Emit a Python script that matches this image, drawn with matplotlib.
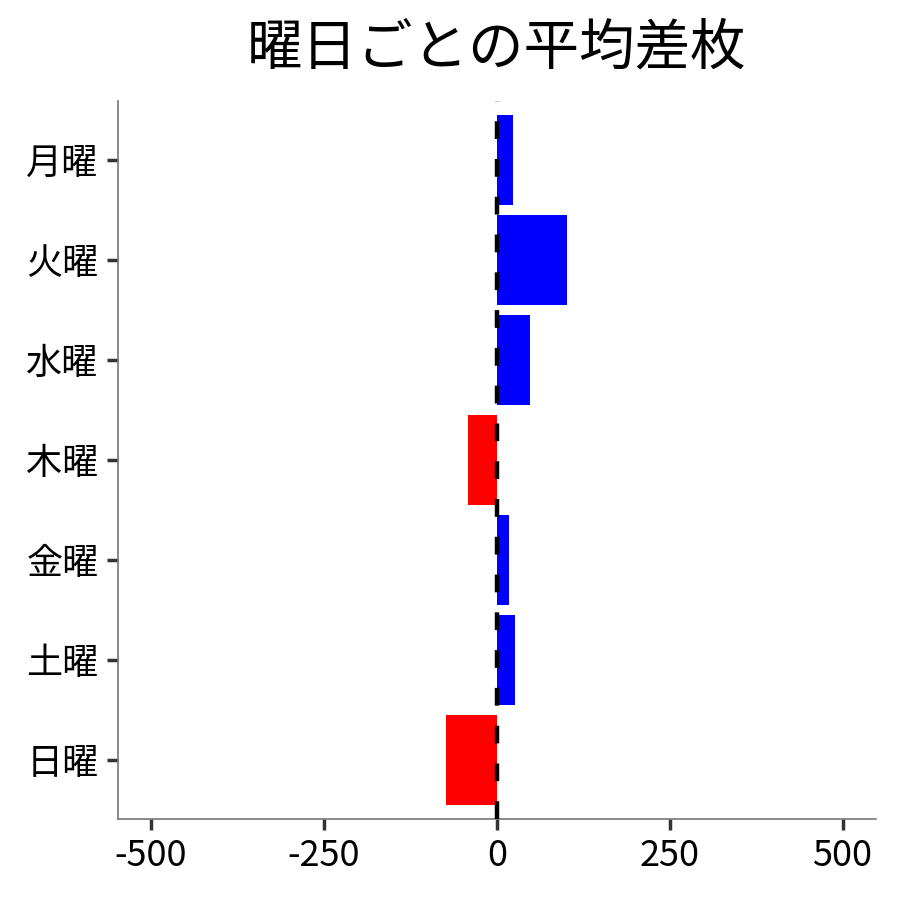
import matplotlib
matplotlib.use('Agg')
import matplotlib.pyplot as plt

plt.rcParams['font.family'] = ['Noto Sans CJK JP', 'DejaVu Sans']

days = ['月曜', '火曜', '水曜', '木曜', '金曜', '土曜', '日曜']
avg_diff = [23, 101, 48, -42, 17, 26, -74]
colors = ['blue' if v >= 0 else 'red' for v in avg_diff]

fig = plt.figure(figsize=(9, 9), dpi=100)
ax = fig.add_axes([0.131, 0.09, 0.842, 0.798])

ax.barh(days, avg_diff, height=0.9, color=colors, zorder=2)
ax.axvline(0, color='black', linewidth=3.2, dashes=(4, 4.5), zorder=3)

ax.set_xlim(-548, 548)
ax.set_ylim(6.59, -0.59)
ax.set_xticks([-500, -250, 0, 250, 500])
ax.set_xticklabels(['-500', '-250', '0', '250', '500'])

for side in ['top', 'right']:
    ax.spines[side].set_visible(False)
for side in ['left', 'bottom']:
    ax.spines[side].set_color('#777777')
    ax.spines[side].set_linewidth(1.2)

ax.tick_params(axis='both', length=8, width=2.5, color='#333333',
               labelsize=26, pad=6)

ax.set_title('曜日ごとの平均差枚', fontsize=40, pad=26)

fig.savefig('out.png', dpi=100)
